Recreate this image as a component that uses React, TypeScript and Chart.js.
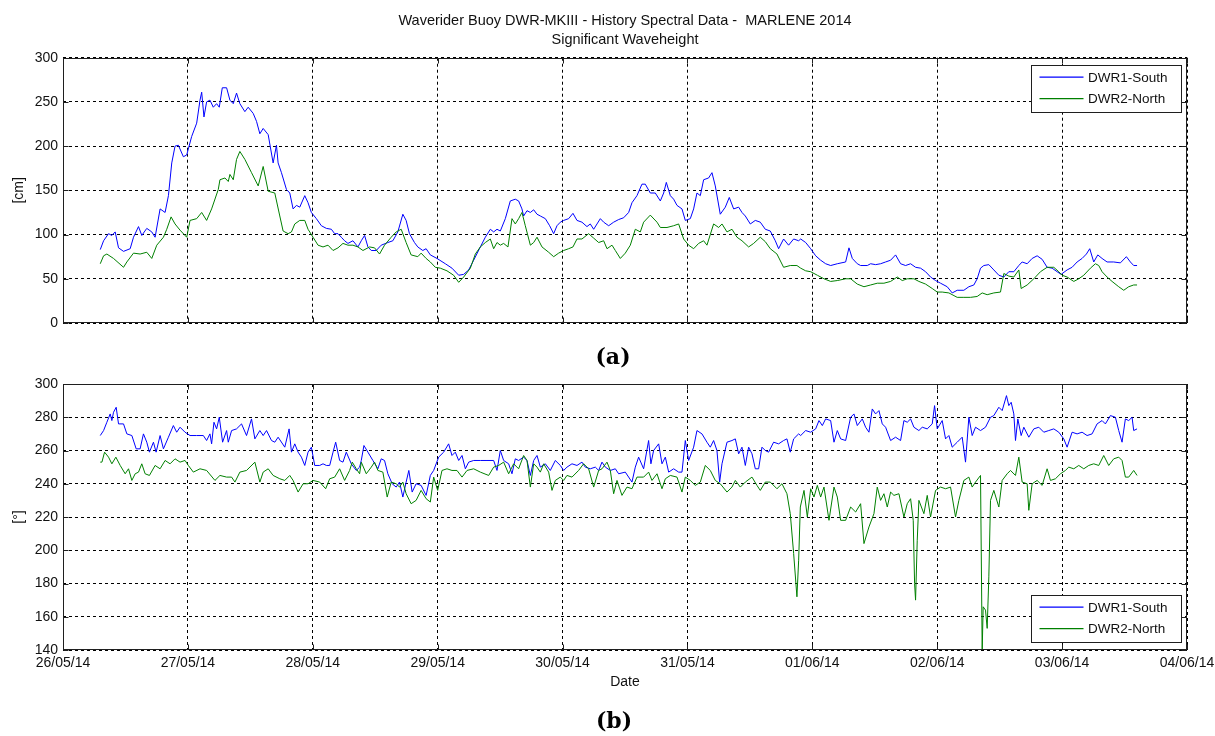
import React, { useEffect, useRef } from 'react';
import { Chart, registerables } from 'chart.js';

Chart.register(...registerables);

// ---------- DATA ----------
const titleLines = ['Waverider Buoy DWR-MKIII - History Spectral Data -  MARLENE 2014', 'Significant Waveheight'];
const seriesNames = ['DWR1-South', 'DWR2-North'];
const dateLabels = ['26/05/14', '27/05/14', '28/05/14', '29/05/14', '30/05/14', '31/05/14', '01/06/14', '02/06/14', '03/06/14', '04/06/14'];

// time axis: hours since 26/05/14 00:00
// Significant waveheight [cm], DWR1-South
const hsSouthHours = [
  7.16, 7.8, 8.75, 9.39, 10.03, 10.67, 11.63, 12.91, 13.55, 14.51, 15.14, 16.1, 17.06, 17.7, 18.66, 19.62, 20.26, 20.9, 21.53, 22.17,
  23.13, 23.77, 24.73, 25.69, 26.33, 26.65, 27.09, 27.6, 28.24, 28.88, 29.52, 30.03, 30.61, 31.44, 32.08, 32.72, 33.35, 33.99, 34.95, 35.59,
  36.55, 37.19, 37.83, 38.47, 39.43, 40.38, 41.02, 41.34, 41.98, 42.94, 43.58, 44.22, 44.86, 45.5, 46.46, 47.09, 47.73, 48.69, 49.65, 50.61,
  51.57, 52.21, 52.85, 53.48, 54.12, 54.76, 55.72, 56.68, 57.32, 57.96, 58.6, 59.24, 60.19, 61.15, 62.43, 63.39, 64.35, 65.31, 65.94, 66.58,
  67.54, 68.18, 69.14, 69.78,
  70.59, 71.87, 73.47, 74.75, 76.04, 77.0, 77.96, 78.92, 80.2, 81.16, 82.12, 82.76, 83.4, 84.04, 85.0, 85.96, 86.92, 87.56, 88.2, 88.52,
  89.17, 89.81, 90.45, 91.09, 91.73, 92.69, 93.52, 94.29, 94.93, 95.57, 96.21, 97.17, 98.0, 98.77, 99.73, 100.69, 101.33, 101.98, 102.62, 103.26,
  103.9, 104.86, 105.82, 106.78, 107.74, 108.7, 109.34, 110.3, 111.26, 111.9, 112.86, 113.82, 114.79, 115.43, 115.94, 116.71, 117.35, 117.99, 118.95, 119.59,
  120.55, 121.19, 121.83, 122.47, 123.11, 124.07, 124.71, 125.35, 126.31, 127.28, 128.04, 128.88, 129.84, 130.48, 131.12, 132.08, 133.04, 134.0, 134.96, 135.92,
  136.88, 137.52, 138.48, 139.44, 140.41, 141.37,
  141.76, 142.72, 143.68, 144.64, 145.6, 146.56, 147.52, 148.8, 150.4, 151.04, 151.68, 152.64, 153.28, 154.56, 155.2, 156.16, 157.12, 158.08, 159.04, 160.0,
  160.96, 161.92, 162.88, 163.84, 164.8, 165.76, 166.72, 167.68, 168.64, 169.92, 170.88, 171.84, 173.12, 174.08, 175.04, 175.68, 176.32, 176.96, 177.92, 178.88,
  179.84, 180.8, 181.76, 182.72, 183.68, 184.32, 185.28, 186.24, 187.2, 188.16, 189.12, 190.08, 191.04, 191.81, 192.96, 193.92, 194.88, 195.84, 196.67, 197.31,
  198.08, 198.85, 199.68, 200.64, 201.92, 203.2, 204.35, 205.12, 205.76, 206.4,
];
const hsSouthCm = [
  83, 93, 101, 99, 103, 85, 81, 84, 97, 109, 99, 107, 103, 97, 129, 125, 144, 181, 200, 201,
  188, 190, 211, 226, 252, 261, 233, 250, 252, 244, 248, 244, 266, 266, 252, 248, 260, 248, 239, 244,
  237, 228, 214, 220, 213, 181, 201, 181, 170, 151, 147, 129, 133, 131, 144, 136, 125, 118, 110, 107,
  106, 101, 101, 97, 93, 90, 93, 86, 93, 99, 86, 82, 82, 88, 91, 93, 103, 123, 116, 101,
  91, 86, 82, 84,
  77, 73, 67, 62, 54, 55, 60, 71, 86, 97, 106, 103, 106, 104, 118, 138, 140, 138, 129, 121,
  127, 125, 128, 123, 121, 118, 110, 101, 110, 114, 116, 118, 124, 116, 114, 109, 112, 106, 112, 118,
  114, 110, 114, 117, 119, 125, 136, 144, 157, 157, 147, 147, 138, 147, 159, 144, 140, 133, 129, 116,
  118, 129, 147, 144, 162, 164, 170, 155, 123, 131, 142, 129, 131, 125, 121, 112, 116, 114, 106, 104,
  93, 84, 95, 88, 95, 93,
  95, 91, 84, 76, 71, 67, 65, 67, 69, 85, 73, 67, 65, 65, 67, 66, 67, 69, 71, 77,
  67, 65, 67, 63, 62, 58, 52, 48, 45, 41, 34, 37, 37, 41, 43, 50, 62, 65, 66, 60,
  54, 52, 58, 58, 65, 69, 67, 73, 76, 72, 63, 62, 58, 55, 60, 63, 69, 73, 78, 84,
  69, 77, 73, 69, 69, 68, 75, 69, 65, 65,
];

// Significant waveheight [cm], DWR2-North
const hsNorthHours = [
  7.16, 7.8, 8.43, 9.71, 11.63, 12.27, 13.55, 14.82, 16.1, 17.06, 18.02, 19.3, 19.94, 20.77, 21.53, 22.49, 23.77, 24.41, 25.69, 26.65,
  27.6, 28.56, 29.84, 30.16, 31.12, 31.76, 32.08, 32.72, 33.35, 33.99, 34.95, 36.23, 37.51, 38.47, 39.43, 40.7, 41.66, 42.3, 43.26, 43.9,
  44.54, 45.5, 46.46, 47.09, 48.05, 49.01, 49.97, 50.93, 51.89, 52.85, 53.8, 54.76, 55.72, 56.68, 57.64, 58.92, 59.87, 60.83, 61.79, 63.07,
  64.03, 64.99, 65.94, 66.9, 68.18, 68.82, 69.78,
  70.59, 71.55, 72.51, 73.79, 75.07, 76.04, 77.0, 78.28, 79.24, 80.2, 81.16, 82.12, 82.76, 83.4, 84.04, 84.68, 85.51, 86.28, 86.92, 87.56,
  88.2, 88.84, 89.81, 90.45, 91.09, 92.05, 93.33, 94.29, 95.25, 96.21, 97.17, 98.0, 98.77, 99.73, 101.01, 101.98, 102.94, 103.9, 104.54, 105.5,
  106.14, 107.1, 108.06, 109.02, 109.98, 110.94, 111.58, 112.86, 114.15, 114.79, 116.07, 117.35, 118.31, 119.27, 120.23, 121.19, 122.15, 123.11, 123.75, 125.03,
  126.0, 126.64, 127.6, 128.56, 129.52, 130.48, 131.76, 132.72, 134.0, 134.96, 135.92, 137.2, 138.48, 139.76, 141.04,
  141.76, 142.72, 143.68, 144.96, 146.24, 147.52, 148.8, 150.4, 151.36, 152.64, 153.92, 155.2, 156.48, 157.76, 159.04, 160.32, 161.28, 162.24, 163.52, 164.48,
  165.76, 167.04, 168.0, 168.96, 170.24, 171.84, 173.12, 174.4, 175.68, 176.64, 177.6, 178.88, 180.16, 180.8, 181.76, 182.72, 183.68, 184.13, 185.28, 186.56,
  187.84, 189.12, 190.4, 191.36, 192.0, 192.96, 194.24, 195.2, 196.16, 197.44, 198.4, 199.04, 199.68, 200.64, 201.6, 202.88, 203.84, 204.8, 205.76, 206.4,
];
const hsNorthCm = [
  67, 76, 78, 73, 63, 69, 79, 78, 80, 73, 88, 97, 106, 120, 112, 105, 97, 116, 118, 125,
  116, 129, 151, 162, 164, 160, 168, 162, 185, 194, 185, 170, 155, 177, 149, 147, 121, 104, 101, 103,
  112, 116, 116, 106, 97, 88, 86, 88, 82, 85, 90, 88, 88, 86, 82, 86, 85, 78, 88, 97,
  103, 106, 91, 77, 75, 79, 73,
  69, 63, 62, 59, 54, 46, 52, 62, 78, 86, 91, 95, 84, 91, 88, 90, 86, 118, 112, 118,
  125, 110, 88, 91, 97, 86, 80, 75, 79, 82, 84, 86, 95, 95, 101, 96, 91, 93, 84, 88,
  82, 73, 79, 88, 106, 103, 114, 122, 114, 108, 108, 110, 112, 95, 88, 84, 90, 93, 88, 112,
  108, 112, 103, 106, 97, 93, 86, 90, 97, 92, 84, 78, 63, 65, 65,
  62, 59, 58, 54, 50, 47, 48, 50, 50, 44, 41, 43, 45, 45, 47, 52, 48, 50, 50, 47,
  44, 39, 35, 35, 34, 29, 29, 29, 30, 34, 32, 34, 35, 56, 53, 52, 60, 39, 43, 50,
  58, 63, 63, 58, 54, 52, 47, 50, 54, 62, 67, 65, 58, 52, 47, 41, 37, 41, 43, 43,
];

// Direction [deg], DWR1-South
const dirSouthHours = [
  7.16, 7.8, 8.43, 9.07, 9.39, 9.71, 10.22, 10.67, 11.63, 12.27, 13.23, 14.06, 14.82, 15.46, 16.1, 16.61, 17.38, 17.89, 18.66, 19.3,
  20.26, 21.21, 21.85, 22.49, 23.45, 24.41, 25.69, 26.97, 27.6, 28.24, 28.56, 29.01, 29.52, 30.03, 30.67, 31.44, 31.76, 32.4, 33.35, 34.31,
  35.27, 36.23, 36.87, 37.83, 38.47, 39.11, 40.07, 40.7, 41.34, 42.62, 43.45, 43.9, 44.54, 45.18, 45.82, 46.46, 47.09, 47.73, 48.37, 49.33,
  49.97, 50.61, 51.25, 51.89, 52.4, 53.16, 53.8, 54.44, 55.4, 56.36, 57.0, 57.32, 57.83, 58.6, 59.55, 60.51, 61.15, 61.79, 62.43, 63.26,
  64.03, 64.67, 65.31, 65.94, 66.46, 67.1, 67.86, 68.82, 69.78,
  70.59, 71.23, 72.19, 73.15, 74.11, 74.75, 75.39, 76.04, 76.68, 77.32, 77.96, 78.92, 80.2, 81.48, 82.76, 83.4, 84.04, 84.68, 85.64, 86.28,
  86.92, 87.56, 88.52, 89.17, 89.81, 90.45, 91.09, 91.73, 92.69, 93.65, 94.61, 95.57, 96.21, 96.85, 97.81, 98.77, 99.73, 100.37, 101.33, 102.3,
  102.94, 103.58, 104.22, 105.18, 106.14, 106.78, 108.06, 109.34, 109.98, 110.62, 111.58, 112.54, 112.98, 113.5, 114.47, 115.11, 115.75, 116.39, 117.35, 118.31,
  118.95, 119.59, 120.23, 121.19, 121.83, 122.79, 123.75, 124.39, 125.03, 125.67, 126.19, 126.64, 127.6, 128.56, 129.2, 129.84, 130.48, 131.12, 131.76, 132.4,
  133.04, 133.68, 134.32, 134.96, 135.6, 136.56, 137.52, 138.48, 139.12, 139.76, 140.41, 141.37,
  141.76, 142.72, 143.68, 144.64, 145.28, 145.92, 146.56, 147.52, 148.16, 148.8, 149.44, 150.4, 151.36, 152.0, 152.64, 153.6, 154.24, 154.88, 155.52, 156.16,
  156.8, 157.44, 158.08, 159.04, 160.0, 160.96, 161.6, 162.24, 162.88, 163.52, 164.48, 165.12, 166.08, 167.04, 167.49, 168.0, 168.96, 169.6, 170.24, 170.88,
  171.84, 172.8, 173.44, 174.08, 174.72, 175.36, 176.32, 177.28, 178.24, 178.88, 179.84, 180.48, 181.31, 181.76, 182.21, 182.72, 183.04, 183.49, 184.13, 184.64,
  185.6, 186.56, 187.52, 188.48, 189.44, 190.4, 191.36, 192.32, 192.96, 193.92, 194.88, 195.84, 196.8, 197.76, 198.72, 199.68, 200.32, 201.28, 202.24, 202.88,
  203.52, 204.16, 204.8, 205.44, 205.76, 206.4,
];
const dirSouthDeg = [
  269, 272, 277, 282, 278, 283, 286, 276, 276, 270, 269, 261, 261, 270, 265, 259, 265, 259, 269, 261,
  268, 275, 271, 274, 271, 269, 269, 269, 266, 270, 264, 277, 273, 280, 265, 272, 265, 272, 273, 276,
  269, 279, 267, 272, 269, 272, 266, 265, 268, 262, 273, 259, 264, 259, 256, 251, 259, 262, 251, 251,
  252, 251, 251, 259, 265, 254, 253, 259, 252, 248, 250, 254, 263, 259, 254, 249, 255, 254, 246, 240,
  238, 241, 232, 241, 248, 235, 240, 239, 233,
  245, 248, 256, 259, 264, 257, 259, 254, 257, 249, 253, 254, 254, 254, 254, 248, 260, 254, 252, 246,
  255, 254, 256, 254, 245, 254, 257, 250, 252, 248, 254, 251, 248, 250, 252, 251, 253, 250, 249, 250,
  248, 253, 250, 248, 249, 246, 247, 241, 250, 256, 249, 266, 252, 260, 264, 252, 256, 247, 249, 247,
  247, 266, 254, 262, 272, 270, 265, 262, 266, 260, 241, 252, 265, 266, 267, 258, 262, 251, 262, 258,
  249, 249, 262, 260, 259, 265, 264, 266, 267, 259, 267, 270,
  269, 272, 271, 273, 278, 275, 279, 278, 265, 272, 267, 266, 280, 282, 275, 279, 274, 271, 285, 282,
  284, 276, 274, 266, 268, 266, 278, 277, 279, 274, 272, 274, 273, 276, 287, 273, 278, 267, 269, 262,
  265, 268, 253, 280, 269, 274, 272, 274, 280, 281, 286, 284, 293, 287, 289, 282, 266, 279, 269, 274,
  268, 273, 274, 271, 272, 273, 271, 267, 262, 271, 270, 271, 269, 270, 276, 278, 276, 281, 280, 272,
  265, 279, 278, 280, 272, 273,
];

// Direction [deg], DWR2-North
const dirNorthHours = [
  7.16, 7.48, 7.99, 8.75, 9.39, 10.16, 10.99, 11.95, 12.59, 13.23, 13.87, 14.51, 15.14, 15.78, 16.61, 17.7, 18.66, 19.62, 20.58, 21.53,
  22.49, 23.45, 24.09, 25.05, 26.33, 27.6, 29.2, 30.16, 31.44, 32.4, 33.04, 33.99, 35.27, 36.87, 37.83, 38.47, 39.43, 40.38, 41.66, 42.62,
  43.58, 44.22, 45.18, 46.14, 47.09, 48.05, 49.33, 50.48, 51.25, 52.21, 53.16, 54.12, 55.08, 55.59, 56.36, 57.0, 57.32, 58.28, 59.24, 59.87,
  60.51, 61.47, 62.3, 63.07, 64.03, 64.67, 65.31, 65.94, 66.9, 67.86, 68.82, 69.78,
  70.59, 71.23, 72.0, 72.83, 73.79, 74.75, 75.71, 76.68, 77.64, 78.92, 80.2, 81.8, 82.76, 83.72, 84.68, 85.64, 86.6, 87.56, 88.52, 89.17,
  89.81, 90.45, 91.09, 91.73, 92.37, 93.33, 93.97, 94.61, 95.57, 96.21, 96.85, 97.81, 99.09, 100.05, 101.01, 101.98, 102.94, 103.58, 104.54, 105.18,
  105.82, 106.46, 107.42, 108.38, 109.34, 110.3, 111.58, 112.54, 113.18, 114.15, 115.11, 115.75, 116.71, 117.99, 118.95, 119.59, 120.55, 121.51, 122.47, 123.43,
  124.39, 125.35, 126.31, 127.6, 128.56, 129.2, 130.16, 131.12, 132.4, 133.36, 134.0, 134.96, 135.92, 137.2, 138.16, 139.12, 139.76, 140.41, 141.04, 141.37,
  141.69,
  142.4, 143.04, 143.68, 144.32, 144.96, 145.6, 146.24, 147.2, 148.16, 148.8, 149.44, 150.4, 151.36, 152.32, 153.28, 153.92, 154.88, 155.84, 156.48, 157.12,
  157.76, 158.4, 159.04, 159.68, 160.64, 161.6, 162.24, 162.88, 163.39, 163.65, 163.84, 164.16, 164.48, 165.44, 166.08, 166.72, 167.68, 168.64, 169.6, 170.56,
  171.52, 172.16, 173.12, 174.08, 174.72, 175.36, 176.32, 176.64, 176.83, 177.28, 177.6, 177.92, 178.24, 178.88, 179.84, 180.48, 181.44, 182.08, 183.04, 183.68,
  184.32, 185.28, 185.6, 186.24, 187.2, 188.16, 189.12, 189.76, 190.72, 191.68, 192.64, 193.28, 194.24, 195.2, 196.16, 197.12, 198.08, 199.04, 200.0, 200.96,
  201.92, 202.88, 203.52, 204.16, 204.8, 205.76, 206.4,
];
const dirNorthDeg = [
  253, 253, 259, 256, 252, 256, 251, 246, 249, 242, 246, 247, 252, 246, 245, 251, 249, 254, 252, 255,
  253, 254, 251, 247, 249, 248, 242, 245, 244, 244, 241, 247, 248, 253, 241, 247, 249, 245, 243, 242,
  245, 242, 235, 240, 240, 242, 241, 237, 243, 244, 249, 242, 248, 253, 249, 246, 253, 246, 250, 253,
  248, 247, 232, 241, 240, 238, 241, 234, 228, 230, 236, 231,
  229, 244, 236, 248, 249, 248, 248, 244, 248, 249, 247, 245, 250, 251, 253, 246, 252, 249, 257, 254,
  238, 252, 250, 247, 252, 247, 236, 242, 244, 242, 245, 244, 248, 252, 249, 238, 248, 249, 253, 248,
  234, 242, 233, 238, 237, 244, 244, 247, 242, 246, 237, 243, 245, 244, 235, 244, 242, 239, 241, 251,
  248, 242, 240, 235, 238, 242, 238, 241, 244, 239, 236, 241, 241, 237, 240, 234, 222, 198, 172, 194,
  226,
  236, 220, 237, 232, 239, 232, 238, 218, 238, 232, 218, 218, 226, 223, 228, 204, 214, 222, 238, 230,
  234, 226, 235, 233, 234, 220, 228, 231, 218, 180, 170, 206, 230, 222, 233, 220, 236, 238, 237, 238,
  220, 230, 242, 244, 238, 241, 245, 139, 166, 164, 153, 184, 230, 236, 226, 242, 246, 248, 245, 256,
  241, 240, 224, 240, 242, 239, 249, 242, 243, 246, 248, 250, 249, 251, 249, 251, 252, 251, 257, 251,
  255, 256, 254, 244, 244, 248, 245,
];

// ---------- STYLE / HELPERS ----------
const FONT = "'Liberation Sans', Arial, sans-serif";
const FS = 14;
const TITLE_FS = 14.5;
const LEGEND_FS = 13.5;
const SOUTH_COLOR = '#0000ff';
const NORTH_COLOR = '#008000';
const SERIES_COLORS = [SOUTH_COLOR, NORTH_COLOR];

function pairs(h: number[], v: number[]) {
  return h.map((x, i) => ({ x, y: v[i] }));
}

const framePlugin = {
  id: 'frame',
  afterDraw(chart: any, _args: any, opts: any) {
    const { ctx, chartArea: a, scales } = chart;
    const L = Math.round(a.left) + 0.5;
    const R = Math.round(a.right) - 0.5;
    const T = Math.round(a.top) + 0.5;
    const B = Math.round(a.bottom) - 0.5;
    ctx.save();
    ctx.strokeStyle = '#1f1f1f';
    ctx.lineWidth = 1;
    ctx.setLineDash([]);
    ctx.strokeRect(L, T, R - L, B - T);
    const tl = 5;
    ctx.beginPath();
    scales.x.ticks.forEach((t: any) => {
      const px = Math.round(scales.x.getPixelForValue(t.value)) + 0.5;
      ctx.moveTo(px, B); ctx.lineTo(px, B - tl);
      ctx.moveTo(px, T); ctx.lineTo(px, T + tl);
    });
    scales.y.ticks.forEach((t: any) => {
      const py = Math.round(scales.y.getPixelForValue(t.value)) + 0.5;
      ctx.moveTo(L, py); ctx.lineTo(L + tl, py);
      ctx.moveTo(R, py); ctx.lineTo(R - tl, py);
    });
    ctx.stroke();

    // legend box
    const bw = 150, bh = 47;
    const bx = Math.round(a.right - 156) + 0.5;
    const by = opts.corner === 'top' ? Math.round(a.top + 7) + 0.5 : Math.round(a.bottom - 8 - bh) + 0.5;
    ctx.fillStyle = '#ffffff';
    ctx.fillRect(bx, by, bw, bh);
    ctx.strokeStyle = '#1f1f1f';
    ctx.strokeRect(bx, by, bw, bh);
    const rows = [11.7, 33.2];
    seriesNames.forEach((name: string, i: number) => {
      const y = by + rows[i];
      ctx.beginPath();
      ctx.strokeStyle = SERIES_COLORS[i];
      ctx.lineWidth = 1.2;
      ctx.moveTo(bx + 8, y);
      ctx.lineTo(bx + 52, y);
      ctx.stroke();
      ctx.fillStyle = '#111';
      ctx.font = `${LEGEND_FS}px ${FONT}`;
      ctx.textBaseline = 'middle';
      ctx.textAlign = 'left';
      ctx.fillText(name, bx + 56.5, y + 0.8);
    });
    ctx.restore();
  },
};

function makeConfig(kind: 'hs' | 'dir') {
  const isHs = kind === 'hs';
  const south = isHs ? pairs(hsSouthHours, hsSouthCm) : pairs(dirSouthHours, dirSouthDeg);
  const north = isHs ? pairs(hsNorthHours, hsNorthCm) : pairs(dirNorthHours, dirNorthDeg);
  const grid = { color: '#000', lineWidth: 1, drawTicks: false };
  const border = { display: false, dash: [3, 3] };
  return {
    type: 'line',
    data: {
      datasets: [
        { label: seriesNames[0], data: south, borderColor: SOUTH_COLOR, borderWidth: 1, pointRadius: 0, tension: 0, order: 1 },
        { label: seriesNames[1], data: north, borderColor: NORTH_COLOR, borderWidth: 1, pointRadius: 0, tension: 0, order: 0 },
      ],
    },
    options: {
      animation: false,
      responsive: false,
      maintainAspectRatio: false,
      events: [],
      layout: { padding: isHs ? { left: 0, right: 28, top: 0, bottom: 0 } : { left: 0, right: 28, top: 44, bottom: 36 } },
      plugins: {
        legend: { display: false },
        tooltip: { enabled: false },
        title: isHs
          ? {
              display: true,
              fullSize: false,
              text: titleLines,
              color: '#111',
              font: { family: FONT, size: TITLE_FS, weight: 'normal', lineHeight: 19 / TITLE_FS },
              padding: { top: 11.5, bottom: 8.2 },
            }
          : { display: false },
        frame: { corner: isHs ? 'top' : 'bottom' },
      },
      scales: {
        x: {
          type: 'linear',
          min: 0,
          max: 216,
          grid,
          border,
          ticks: {
            display: !isHs,
            stepSize: 24,
            autoSkip: false,
            maxRotation: 0,
            padding: 5,
            color: '#111',
            font: { family: FONT, size: FS },
            callback: (v: number) => dateLabels[Math.round(v / 24)] ?? '',
          },
          title: isHs
            ? { display: false }
            : { display: true, text: 'Date', color: '#111', font: { family: FONT, size: FS }, padding: { top: 0, bottom: 9 } },
          afterFit: (s: any) => {
            s.height = isHs ? 17 : 50;
            s.paddingLeft = 0;
            s.paddingRight = 0;
          },
        },
        y: {
          type: 'linear',
          min: isHs ? 0 : 140,
          max: 300,
          grid,
          border,
          ticks: {
            stepSize: isHs ? 50 : 20,
            padding: 5,
            color: '#111',
            font: { family: FONT, size: FS },
          },
          title: { display: true, text: isHs ? '[cm]' : '[°]', color: '#111', font: { family: FONT, size: FS }, padding: { top: 11, bottom: 0 } },
          afterFit: (s: any) => { s.width = 63; },
        },
      },
    },
    plugins: [framePlugin],
  };
}

function SubChart({ kind, top, height }: { kind: 'hs' | 'dir'; top: number; height: number }) {
  const ref = useRef<HTMLCanvasElement | null>(null);
  useEffect(() => {
    if (!ref.current) return;
    const chart = new Chart(ref.current, makeConfig(kind) as any);
    return () => chart.destroy();
  }, [kind]);
  return (
    <canvas
      ref={ref}
      width={1215}
      height={height}
      style={{ position: 'absolute', left: 0, top, width: 1215, height }}
    />
  );
}

const captionStyle: React.CSSProperties = {
  position: 'absolute',
  transform: 'translate(-50%, -50%)',
  fontFamily: "'DejaVu Serif', 'Liberation Serif', serif",
  fontWeight: 'bold',
  fontSize: 22,
  lineHeight: 1,
  color: '#000',
  whiteSpace: 'nowrap',
};

export default function App() {
  return (
    <div style={{ position: 'absolute', left: 0, top: 0, width: 1215, height: 736, background: '#fff', overflow: 'hidden' }}>
      <SubChart kind="hs" top={0} height={340} />
      <SubChart kind="dir" top={340} height={396} />
      <div style={{ ...captionStyle, left: 613, top: 356 }}>(a)</div>
      <div style={{ ...captionStyle, left: 614, top: 720 }}>(b)</div>
    </div>
  );
}
